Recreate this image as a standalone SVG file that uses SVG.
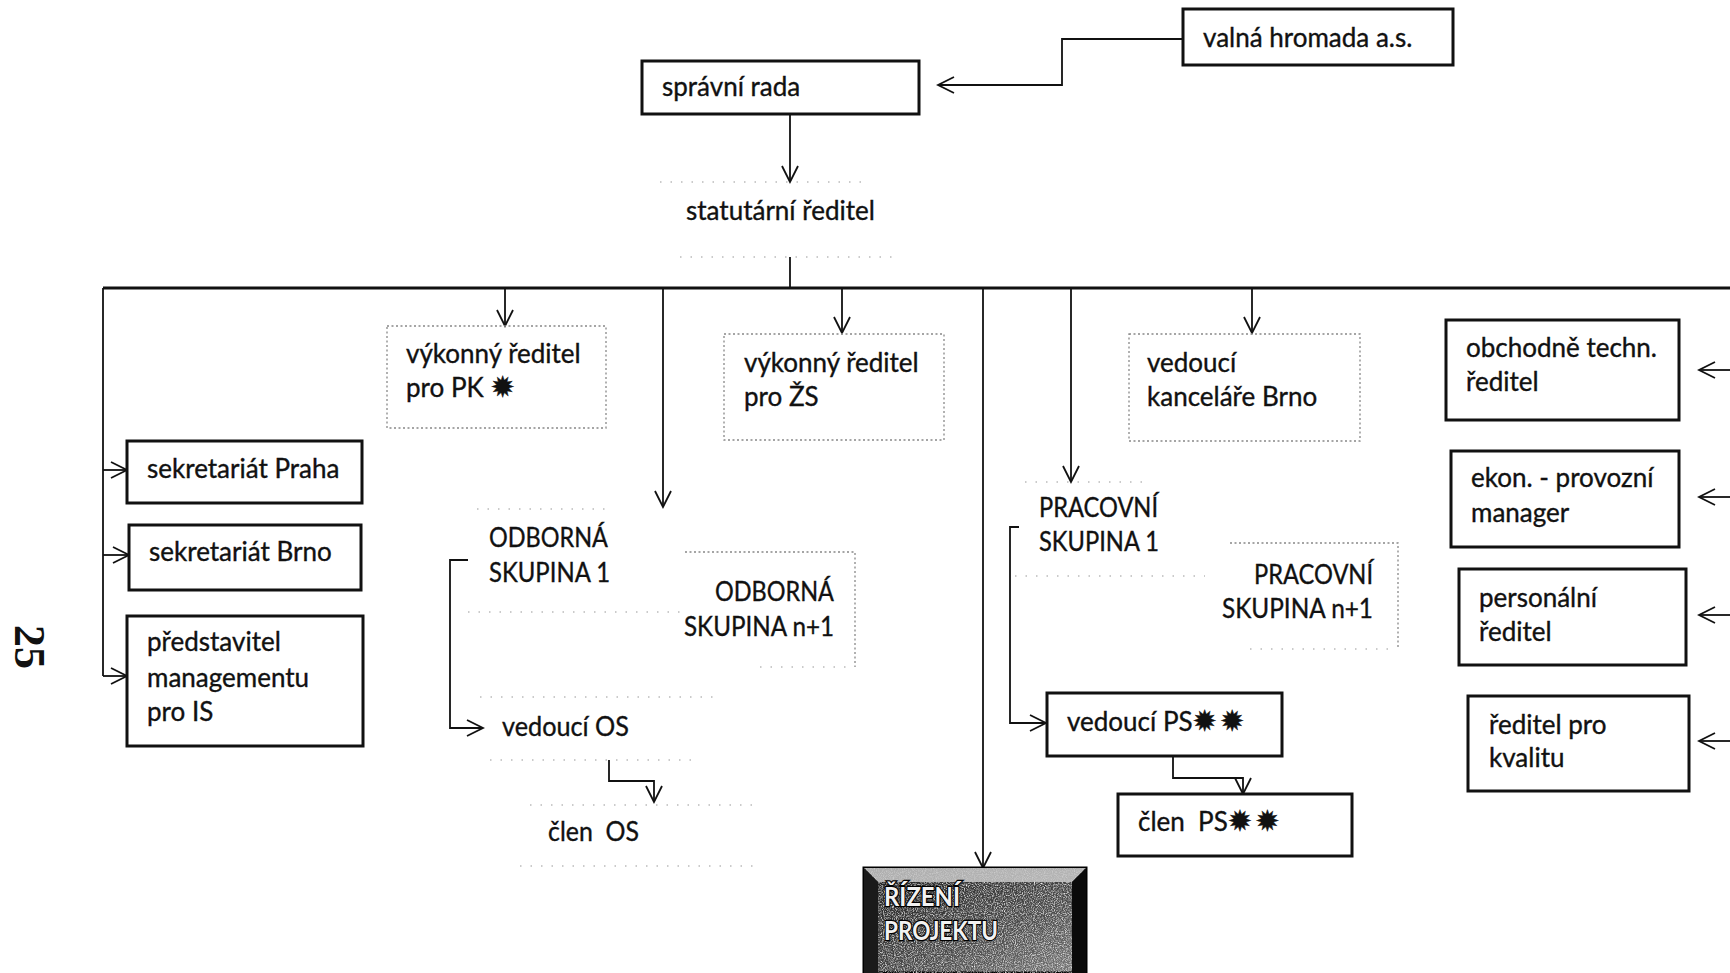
<svg xmlns="http://www.w3.org/2000/svg" width="1730" height="973" viewBox="0 0 1730 973">
<style>
.t{font-family:Lato,"Open Sans","DejaVu Sans",sans-serif;font-size:26px;fill:#111;stroke:#111;stroke-width:0.35;}
.st{font-family:"DejaVu Sans",sans-serif;font-size:29px;}
.box{fill:#fff;stroke:#111;stroke-width:3;}
.dbox{fill:none;stroke:#888;stroke-width:1.3;stroke-dasharray:2 2.5;}
.faint{fill:none;stroke:#bbb;stroke-width:1.3;stroke-dasharray:1.5 9;}
.c{fill:none;stroke:#111;stroke-width:1.8;}
.ca{fill:none;stroke:#111;stroke-width:1.8;marker-end:url(#ah);}
.rp{font-family:Lato,"Open Sans",sans-serif;font-size:27px;font-weight:bold;fill:#f2f2f2;stroke:#000;stroke-width:2.5;paint-order:stroke;}
</style>
<defs>
<marker id="ah" markerUnits="userSpaceOnUse" markerWidth="20" markerHeight="20" viewBox="0 0 20 20" refX="18" refY="10" orient="auto">
<path d="M2,2 L18,10 L2,18" fill="none" stroke="#111" stroke-width="1.8"/>
</marker>
<linearGradient id="rpg" x1="0" y1="0" x2="1" y2="1">
<stop offset="0" stop-color="#1e1e1e"/>
<stop offset="0.6" stop-color="#4a4a4a"/>
<stop offset="1" stop-color="#7a7a7a"/>
</linearGradient>
<filter id="noise" x="0" y="0" width="100%" height="100%">
<feTurbulence type="fractalNoise" baseFrequency="0.9" numOctaves="2" seed="4"/>
<feColorMatrix type="matrix" values="0 0 0 0 0.85  0 0 0 0 0.85  0 0 0 0 0.85  0 0 0 2.2 -0.9"/>
</filter>
<clipPath id="rpclip"><rect x="864" y="868" width="222" height="105"/></clipPath>
</defs>

<g id="connectors">
<path class="ca" d="M1183,39 H1062 V85 H938"/>
<path class="ca" d="M790,114 V182"/>
<path class="c" d="M790,257 V288"/>
<path fill="none" stroke="#111" stroke-width="3" d="M103,288 H1730"/>
<path class="c" d="M103,288 V676"/>
<path class="ca" d="M103,470 H127"/>
<path class="ca" d="M103,555 H129"/>
<path class="ca" d="M103,676 H127"/>
<path class="ca" d="M505,288 V326"/>
<path class="ca" d="M663,288 V507"/>
<path class="ca" d="M842,288 V333"/>
<path class="ca" d="M983,288 V868"/>
<path class="ca" d="M1071,288 V482"/>
<path class="ca" d="M1252,288 V333"/>
<path class="ca" d="M468,560 H450 V728 H483"/>
<path class="ca" d="M609,760 V781 H654 V802"/>
<path class="ca" d="M1019,527 H1010 V723 H1046"/>
<path class="ca" d="M1173,756 V778 H1243 V794"/>
<path class="ca" d="M1730,370 H1699"/>
<path class="ca" d="M1730,497 H1699"/>
<path class="ca" d="M1730,615 H1699"/>
<path class="ca" d="M1730,741 H1699"/>
</g>

<g id="valna-hromada">
<rect class="box" x="1183" y="9" width="270" height="56"/>
<text class="t" x="1203" y="47">valná hromada a.s.</text>
</g>
<g id="spravni-rada">
<rect class="box" x="642" y="61" width="277" height="53"/>
<text class="t" x="662" y="96">správní rada</text>
</g>
<g id="statutarni-reditel">
<path class="faint" d="M660,182 H870 M680,257 H895"/>
<text class="t" x="686" y="220">statutární ředitel</text>
</g>

<g id="sekretariat-praha">
<rect class="box" x="127" y="441" width="235" height="62"/>
<text class="t" x="147" y="478">sekretariát Praha</text>
</g>
<g id="sekretariat-brno">
<rect class="box" x="129" y="525" width="232" height="65"/>
<text class="t" x="149" y="561">sekretariát Brno</text>
</g>
<g id="predstavitel">
<rect class="box" x="127" y="616" width="236" height="130"/>
<text class="t" x="147" y="651">představitel</text>
<text class="t" x="147" y="687">managementu</text>
<text class="t" x="147" y="721">pro IS</text>
</g>

<g id="vykonny-pk">
<rect class="dbox" x="387" y="326" width="219" height="102"/>
<text class="t" x="406" y="363">výkonný ředitel</text>
<text class="t" x="406" y="397">pro PK <tspan class="st">✹</tspan></text>
</g>
<g id="vykonny-zs">
<rect class="dbox" x="724" y="334" width="220" height="106"/>
<text class="t" x="744" y="372">výkonný ředitel</text>
<text class="t" x="744" y="406">pro ŽS</text>
</g>
<g id="vedouci-kancelare">
<rect class="dbox" x="1129" y="334" width="231" height="107"/>
<text class="t" x="1147" y="372">vedoucí</text>
<text class="t" x="1147" y="406">kanceláře Brno</text>
</g>

<g id="odborna-1">
<path class="faint" d="M477,509 H610 M468,612 H687"/>
<text class="t" x="489" y="547" textLength="119" lengthAdjust="spacingAndGlyphs">ODBORNÁ</text>
<text class="t" x="489" y="582" textLength="121" lengthAdjust="spacingAndGlyphs">SKUPINA 1</text>
</g>
<g id="odborna-n1">
<path class="dbox" d="M685,552 H855 V667"/>
<path class="faint" d="M760,667 H850"/>
<text class="t" x="715" y="601" textLength="119" lengthAdjust="spacingAndGlyphs">ODBORNÁ</text>
<text class="t" x="684" y="636" textLength="150" lengthAdjust="spacingAndGlyphs">SKUPINA n+1</text>
</g>
<g id="vedouci-os">
<path class="faint" d="M480,697 H720 M490,760 H700"/>
<text class="t" x="502" y="736" textLength="127" lengthAdjust="spacingAndGlyphs">vedoucí OS</text>
</g>
<g id="clen-os">
<path class="faint" d="M530,805 H760 M520,866 H760"/>
<text class="t" x="548" y="841" xml:space="preserve" textLength="91" lengthAdjust="spacingAndGlyphs">člen  OS</text>
</g>

<g id="pracovni-1">
<path class="faint" d="M1025,482 H1150 M1015,576 H1205"/>
<text class="t" x="1039" y="517" textLength="119" lengthAdjust="spacingAndGlyphs">PRACOVNÍ</text>
<text class="t" x="1039" y="551" textLength="120" lengthAdjust="spacingAndGlyphs">SKUPINA 1</text>
</g>
<g id="pracovni-n1">
<path class="dbox" d="M1230,543 H1398 V649"/>
<path class="faint" d="M1250,649 H1395"/>
<text class="t" x="1254" y="584" textLength="119" lengthAdjust="spacingAndGlyphs">PRACOVNÍ</text>
<text class="t" x="1222" y="618" textLength="151" lengthAdjust="spacingAndGlyphs">SKUPINA n+1</text>
</g>
<g id="vedouci-ps">
<rect class="box" x="1047" y="693" width="235" height="63"/>
<text class="t" x="1067" y="731">vedoucí PS<tspan class="st">✹</tspan><tspan class="st" dx="3">✹</tspan></text>
</g>
<g id="clen-ps">
<rect class="box" x="1118" y="794" width="234" height="62"/>
<text class="t" x="1138" y="831" xml:space="preserve">člen  PS<tspan class="st">✹</tspan><tspan class="st" dx="3">✹</tspan></text>
</g>

<g id="obchodne-techn">
<rect class="box" x="1446" y="320" width="233" height="100"/>
<text class="t" x="1466" y="357">obchodně techn.</text>
<text class="t" x="1466" y="391">ředitel</text>
</g>
<g id="ekon-provozni">
<rect class="box" x="1451" y="451" width="228" height="96"/>
<text class="t" x="1471" y="487">ekon. - provozní</text>
<text class="t" x="1471" y="522">manager</text>
</g>
<g id="personalni">
<rect class="box" x="1459" y="569" width="227" height="96"/>
<text class="t" x="1479" y="607">personální</text>
<text class="t" x="1479" y="641">ředitel</text>
</g>
<g id="kvalita">
<rect class="box" x="1468" y="696" width="221" height="95"/>
<text class="t" x="1489" y="734">ředitel pro</text>
<text class="t" x="1489" y="767">kvalitu</text>
</g>

<g id="rizeni-projektu">
<rect x="864" y="868" width="222" height="105" fill="url(#rpg)" stroke="#000" stroke-width="3"/>
<rect x="864" y="868" width="222" height="105" filter="url(#noise)" clip-path="url(#rpclip)"/>
<polygon points="864,868 1086,868 1072,882 878,882" fill="#c8c8c8" opacity="0.85"/>
<polygon points="1086,868 1086,973 1072,973 1072,882" fill="#0a0a0a"/>
<polygon points="864,868 878,882 878,973 864,973" fill="#1a1a1a"/>
<text class="rp" x="884" y="906" textLength="76" lengthAdjust="spacingAndGlyphs">ŘÍZENÍ</text>
<text class="rp" x="884" y="940" textLength="114" lengthAdjust="spacingAndGlyphs">PROJEKTU</text>
</g>

<g id="page-number">
<text transform="translate(15,625) rotate(90)" font-family="Liberation Serif,serif" font-weight="bold" font-size="44" fill="#111">25</text>
</g>
</svg>
